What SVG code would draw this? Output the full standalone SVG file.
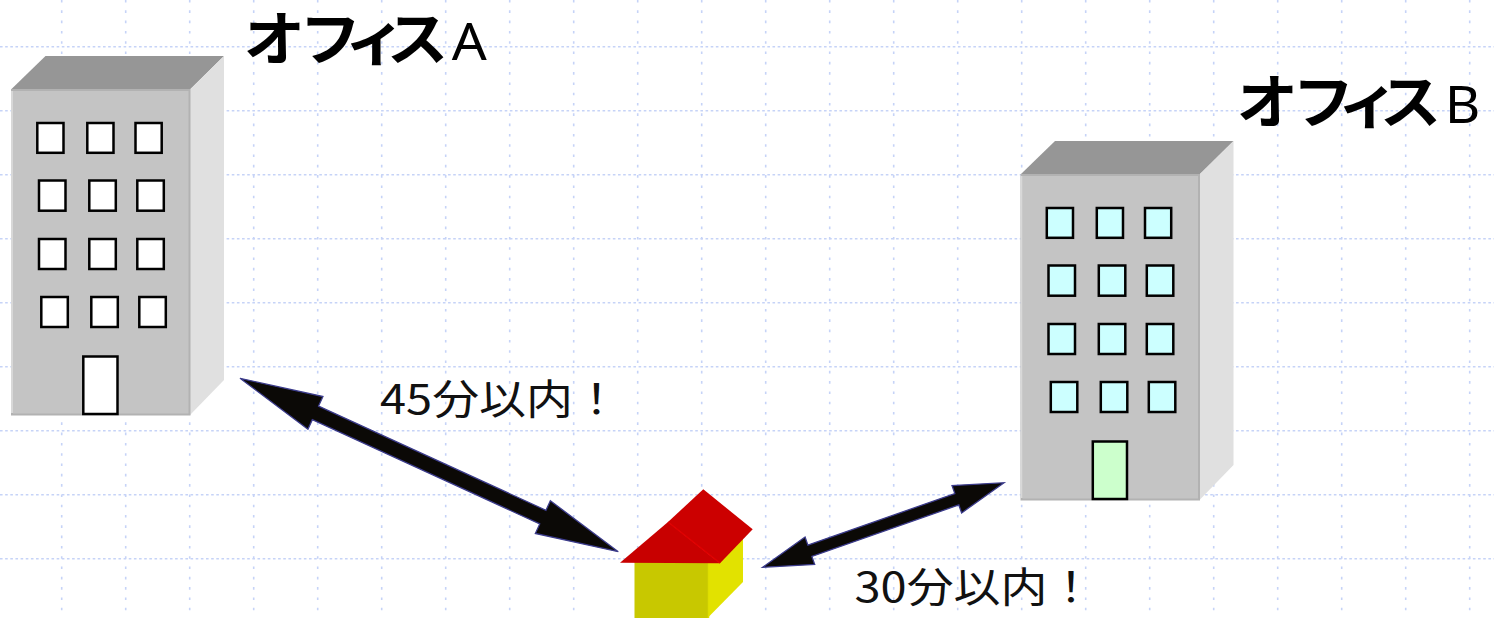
<svg xmlns="http://www.w3.org/2000/svg" width="1494" height="618" viewBox="0 0 1494 618">
  <defs>
    <style>
      .grid-h { stroke: #c6d3f7; stroke-width: 1.6; stroke-dasharray: 2.6 2.55; fill: none; }
      .grid-v { stroke: #c6d3f7; stroke-width: 1.6; stroke-dasharray: 2.6 7.7; fill: none; }
      .b-top { fill: #969696; }
      .b-side { fill: #e0e0e0; }
      .b-front { fill: #c4c4c4; stroke: #b2b2b2; stroke-width: 2; }
      .b-edge { stroke: #d8d8d8; stroke-width: 2; }
      .win { stroke: #000000; stroke-width: 2.5; }
      .win-a { fill: #ffffff; }
      .win-b { fill: #ccffff; }
      .door-b { fill: #ccffcc; }
      .arrow { fill: #0b0906; stroke: #3c3c8c; stroke-width: 1.3; stroke-linejoin: miter; }
      .title { font-family: "Noto Sans CJK JP", "Noto Sans", sans-serif; font-weight: bold; font-size: 55px; fill: #000000; }
      .title .latin { font-family: "Noto Sans", "Liberation Sans", sans-serif; font-weight: normal; font-size: 49px; }
      .label { font-family: "Noto Sans CJK JP", sans-serif; font-size: 41px; fill: #111111; }
    </style>
  </defs>

  <rect x="0" y="0" width="1494" height="618" fill="#ffffff"/>

  <!-- dotted background grid, 64px pitch -->
  <g id="grid">
    <path class="grid-h" d="M0 46.7H1494M0 110.7H1494M0 174.7H1494M0 238.7H1494M0 302.7H1494M0 366.7H1494M0 430.7H1494M0 494.7H1494M0 558.7H1494"/>
    <path class="grid-v" d="M61.7 0V618M125.7 0V618M189.7 0V618M253.7 0V618M317.7 0V618M381.7 0V618M445.7 0V618M509.7 0V618M573.7 0V618M637.7 0V618M701.7 0V618M765.7 0V618M829.7 0V618M893.7 0V618M957.7 0V618M1021.7 0V618M1085.7 0V618M1149.7 0V618M1213.7 0V618M1277.7 0V618M1341.7 0V618M1405.7 0V618M1469.7 0V618"/>
  </g>

  <!-- office building A -->
  <g id="office-a">
    <polygon class="b-top" points="11,89.5 45.5,56 224,56 190,89.5"/>
    <polygon class="b-side" points="190,89.5 224,56 224,380 190,415"/>
    <rect class="b-front" x="12" y="90" width="177.5" height="324.5"/>
    <line class="b-edge" x1="12" y1="91" x2="12" y2="413"/>
    <g class="win win-a">
      <rect x="37.3" y="123" width="26.2" height="29.8"/>
      <rect x="87.3" y="123" width="26.2" height="29.8"/>
      <rect x="135.5" y="123" width="26.2" height="29.8"/>
      <rect x="39" y="180.5" width="26.5" height="30.2"/>
      <rect x="89.3" y="180.5" width="26.5" height="30.2"/>
      <rect x="137.3" y="180.5" width="26.5" height="30.2"/>
      <rect x="39" y="239" width="26.5" height="30"/>
      <rect x="89.3" y="239" width="26.5" height="30"/>
      <rect x="137.3" y="239" width="26.5" height="30"/>
      <rect x="41.3" y="297" width="26.5" height="30"/>
      <rect x="91.3" y="297" width="26.5" height="30"/>
      <rect x="139.3" y="297" width="26.5" height="30"/>
      <rect x="83.3" y="356.5" width="34.2" height="57.5"/>
    </g>
  </g>

  <!-- office building B -->
  <g id="office-b" transform="translate(1009.5 85)">
    <polygon class="b-top" points="11,89.5 45.5,56 224,56 190,89.5"/>
    <polygon class="b-side" points="190,89.5 224,56 224,380 190,415"/>
    <rect class="b-front" x="12" y="90" width="177.5" height="324.5"/>
    <line class="b-edge" x1="12" y1="91" x2="12" y2="413"/>
    <g class="win win-b">
      <rect x="37.3" y="123" width="26.2" height="29.8"/>
      <rect x="87.3" y="123" width="26.2" height="29.8"/>
      <rect x="135.5" y="123" width="26.2" height="29.8"/>
      <rect x="39" y="180.5" width="26.5" height="30.2"/>
      <rect x="89.3" y="180.5" width="26.5" height="30.2"/>
      <rect x="137.3" y="180.5" width="26.5" height="30.2"/>
      <rect x="39" y="239" width="26.5" height="30"/>
      <rect x="89.3" y="239" width="26.5" height="30"/>
      <rect x="137.3" y="239" width="26.5" height="30"/>
      <rect x="41.3" y="297" width="26.5" height="30"/>
      <rect x="91.3" y="297" width="26.5" height="30"/>
      <rect x="139.3" y="297" width="26.5" height="30"/>
    </g>
    <rect class="win door-b" x="83.3" y="356.5" width="34.2" height="57.5"/>
  </g>

  <!-- home -->
  <g id="home">
    <rect x="634.5" y="562" width="74" height="56" fill="#c8c800"/>
    <polygon points="708.5,562 743,530 743,582 708.5,617" fill="#e2e200"/>
    <line x1="708.5" y1="563" x2="708.5" y2="618" stroke="#dede00" stroke-width="1.5"/>
    <polygon points="668,522 703.3,489.3 752.7,529.3 720,563.3" fill="#cc0000"/>
    <polygon points="620,562.7 668,522 720,563.3" fill="#c80000"/>
    <line x1="668" y1="522" x2="720" y2="563" stroke="#e00000" stroke-width="1.5"/>
  </g>

  <!-- double-headed commute arrows -->
  <g id="connectors">
    <polygon id="arrow-a-home" class="arrow" points="240,378.3 322.95,396.52 318.57,406.06 545.97,510.3 550.35,500.76 618.3,551.7 535.35,533.48 539.73,523.94 312.33,419.7 307.95,429.24"/>
    <polygon id="arrow-home-b" class="arrow" points="762.7,567.3 805.09,537.07 807.9,545.09 954.82,493.59 952.01,485.57 1004,482.7 961.61,512.93 958.8,504.91 811.88,556.41 814.69,564.43"/>
  </g>

  <!-- labels: wide gothic lettering, stretched horizontally -->
  <g id="label-office-a">
    <text class="title" transform="translate(243.5 60) scale(1.12 1.05)" x="0 50 90 128" y="0">オフィス<tspan class="latin" x="186">A</tspan></text>
  </g>
  <g id="label-office-b">
    <text class="title" transform="translate(1236.5 123) scale(1.12 1.05)" x="0 50 90 128" y="0">オフィス<tspan class="latin" x="186">B</tspan></text>
  </g>
  <g id="label-45">
    <text class="label" x="380" y="413.5" textLength="240" lengthAdjust="spacingAndGlyphs">45分以内！</text>
  </g>
  <g id="label-30">
    <text class="label" x="854.5" y="601.5" textLength="240" lengthAdjust="spacingAndGlyphs">30分以内！</text>
  </g>
</svg>
